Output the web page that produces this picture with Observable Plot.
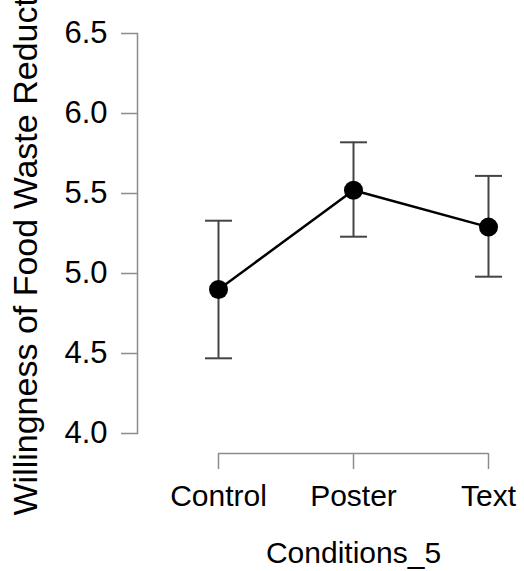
<!DOCTYPE html>
<html><head><meta charset="utf-8">
<script src="https://cdn.jsdelivr.net/npm/d3@7"></script>
<script src="https://cdn.jsdelivr.net/npm/@observablehq/plot@0.6"></script>
<style>html,body{margin:0;padding:0;background:#fff} #chart svg{display:block}</style>
</head><body><div id="chart"></div>
<script>
const categories = ["Control", "Poster", "Text"];
const means = [4.90, 5.52, 5.29];
const lower = [4.47, 5.23, 4.98];
const upper = [5.33, 5.82, 5.61];
const yTicks = [4.0, 4.5, 5.0, 5.5, 6.0, 6.5];
const xTitle = "Conditions_5";
const yTitle = "Willingness of Food Waste Reduction";

const data = categories.map((c, i) => ({condition: c, mean: means[i], lower: lower[i], upper: upper[i]}));

const axisColor = "#8c8c8c";
const barColor = "#444";
const capHalf = 13.5;
const capSymbol = {draw(ctx) { ctx.moveTo(-capHalf, 0); ctx.lineTo(capHalf, 0); }};

const chart = Plot.plot({
  width: 524, height: 571,
  marginLeft: 137, marginRight: 36, marginTop: 33, marginBottom: 138,
  style: {fontFamily: "'Liberation Sans', Arial, sans-serif", background: "#fff", color: "#000"},
  x: {type: "point", domain: categories, padding: 0, insetLeft: 80, label: null},
  y: {domain: [yTicks[0], yTicks[yTicks.length - 1]], label: null},
  marks: [
    Plot.frame({anchor: "left", stroke: axisColor, strokeWidth: 1.5}),
    Plot.axisY(yTicks, {tickSize: 16, tickPadding: 14, tickFormat: d => d.toFixed(1), fontSize: 31, stroke: axisColor, strokeWidth: 1.5, fill: "#000", label: null}),
    Plot.ruleY([yTicks[0]], {x1: () => categories[0], x2: () => categories[categories.length - 1], dy: 20, stroke: axisColor, strokeWidth: 1.5}),
    Plot.axisX({tickSize: 16, tickPadding: 15, dy: 20, fontSize: 30, stroke: axisColor, strokeWidth: 1.5, fill: "#000", label: null}),
    Plot.text([xTitle], {x: () => categories[1], frameAnchor: "bottom", lineAnchor: "bottom", dy: 129, fontSize: 30, fill: "#000"}),
    Plot.text([yTitle], {frameAnchor: "bottom-left", rotate: -90, textAnchor: "start", lineAnchor: "middle", dx: -111, dy: 82, fontSize: 34, fill: "#000"}),
    Plot.ruleX(data, {x: "condition", y1: "lower", y2: "upper", stroke: barColor, strokeWidth: 2}),
    Plot.dot(data, {x: "condition", y: "upper", symbol: capSymbol, fill: "none", stroke: barColor, strokeWidth: 2}),
    Plot.dot(data, {x: "condition", y: "lower", symbol: capSymbol, fill: "none", stroke: barColor, strokeWidth: 2}),
    Plot.line(data, {x: "condition", y: "mean", stroke: "#000", strokeWidth: 2.5}),
    Plot.dot(data, {x: "condition", y: "mean", r: 9.5, fill: "#000", stroke: "none"})
  ]
});
document.getElementById("chart").append(chart);
</script>
</body></html>
